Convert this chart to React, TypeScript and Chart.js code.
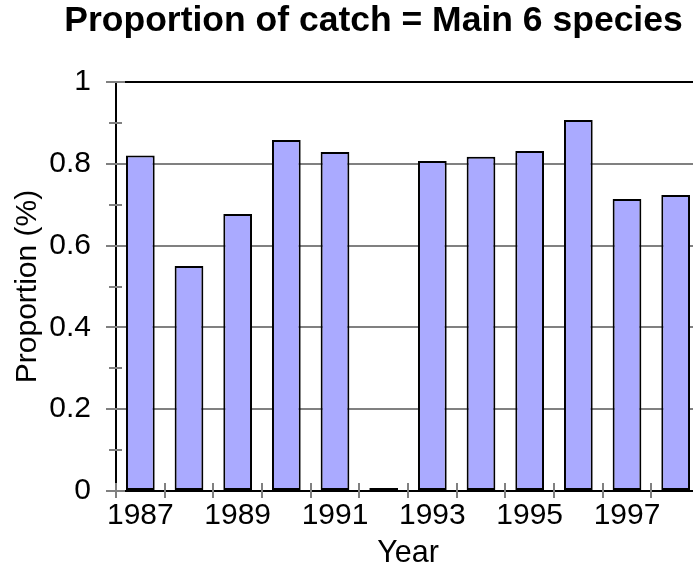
import React, { useEffect, useRef } from 'react';
import { Chart, registerables } from 'chart.js';

Chart.register(...registerables);

const years = ['1987', '1988', '1989', '1990', '1991', '1992', '1993', '1994', '1995', '1996', '1997', '1998'];
const proportions = [0.82, 0.55, 0.677, 0.858, 0.829, 0, 0.807, 0.817, 0.831, 0.907, 0.714, 0.724];
const yTicks = [0, 0.2, 0.4, 0.6, 0.8, 1];
const yMinorTicks = [0.1, 0.3, 0.5, 0.7, 0.9];

const FONT = "'Liberation Sans', Arial, Helvetica, sans-serif";
const TICK_GRAY = '#808080';

const crossTicks = {
  id: 'crossTicks',
  afterDraw(chart: any) {
    const { ctx } = chart;
    const x = chart.scales.x;
    const y = chart.scales.y;
    ctx.save();
    ctx.strokeStyle = TICK_GRAY;
    ctx.lineWidth = 2;
    const line = (x1: number, y1: number, x2: number, y2: number) => {
      ctx.beginPath();
      ctx.moveTo(x1, y1);
      ctx.lineTo(x2, y2);
      ctx.stroke();
    };
    const ax = y.right;
    yTicks.forEach((v) => {
      const py = Math.round(y.getPixelForValue(v));
      line(ax - 10, py, ax + 9, py);
    });
    yMinorTicks.forEach((v) => {
      const py = Math.round(y.getPixelForValue(v));
      line(ax - 7, py, ax + 6, py);
    });
    const n = years.length;
    const step = x.width / n;
    for (let i = 0; i <= n; i++) {
      const px = Math.round(x.left + i * step);
      line(px, x.top - 8, px, x.top + 7);
    }
    ctx.restore();
  },
};

export default function App() {
  const ref = useRef<HTMLCanvasElement | null>(null);

  useEffect(() => {
    if (!ref.current) return;
    const chart = new Chart(ref.current, {
      type: 'bar',
      data: {
        labels: years,
        datasets: [
          {
            data: proportions,
            backgroundColor: '#AAAAFF',
            borderColor: '#000000',
            borderWidth: 2,
            borderSkipped: false,
            barPercentage: 0.59,
            categoryPercentage: 1,
            minBarLength: 3,
          },
        ],
      },
      plugins: [crossTicks],
      options: {
        animation: false,
        responsive: false,
        devicePixelRatio: 1,
        layout: { padding: 0 },
        plugins: {
          legend: { display: false },
          tooltip: { enabled: false },
          title: {
            display: true,
            text: 'Proportion of catch = Main 6 species',
            color: '#000',
            font: { family: FONT, size: 35.5, weight: 'bold' },
            padding: { top: 0, bottom: 39.4 },
          },
        },
        scales: {
          x: {
            type: 'category',
            offset: true,
            grid: {
              offset: true,
              drawOnChartArea: false,
              drawTicks: true,
              tickLength: 7,
              tickColor: 'rgba(0,0,0,0)',
            },
            border: { display: true, color: '#000', width: 2 },
            ticks: {
              autoSkip: false,
              maxRotation: 0,
              minRotation: 0,
              padding: 0,
              color: '#000',
              font: { family: FONT, size: 30 },
              callback: (_v: any, i: number) => (i % 2 === 0 ? years[i] : ''),
            },
            title: {
              display: true,
              text: 'Year',
              color: '#000',
              font: { family: FONT, size: 30.5 },
              padding: { top: 0, bottom: 3 },
            },
            afterFit: (s: any) => {
              s.height = 84;
            },
          },
          y: {
            type: 'linear',
            min: 0,
            max: 1,
            afterBuildTicks: (s: any) => {
              s.ticks = yTicks.map((v) => ({ value: v }));
            },
            grid: {
              color: (c: any) => (c.tick && (c.tick.value === 1 || c.tick.value === 0) ? '#000' : TICK_GRAY),
              lineWidth: 2,
              drawTicks: true,
              tickLength: 10,
              tickColor: 'rgba(0,0,0,0)',
            },
            border: { display: true, color: '#000', width: 2 },
            ticks: {
              padding: 15,
              color: '#000',
              font: { family: FONT, size: 30 },
              callback: (v: any) => String(Math.round(Number(v) * 10) / 10),
            },
            title: {
              display: true,
              text: 'Proportion (%)',
              color: '#000',
              font: { family: FONT, size: 30 },
              padding: { top: 10, bottom: 0 },
            },
            afterFit: (s: any) => {
              s.width = 116;
            },
          },
          yPad: {
            type: 'linear',
            position: 'right',
            min: 0,
            max: 1,
            display: true,
            grid: { display: false, drawTicks: false },
            border: { display: false },
            ticks: { display: false },
            afterFit: (s: any) => {
              s.width = 47;
            },
          },
        },
      },
    } as any);
    return () => chart.destroy();
  }, []);

  return (
    <div style={{ position: 'absolute', left: 0, top: 0, width: 693, height: 568, overflow: 'hidden', background: '#fff' }}>
      <canvas ref={ref} width={747} height={575} style={{ width: 747, height: 575, display: 'block' }} />
    </div>
  );
}
